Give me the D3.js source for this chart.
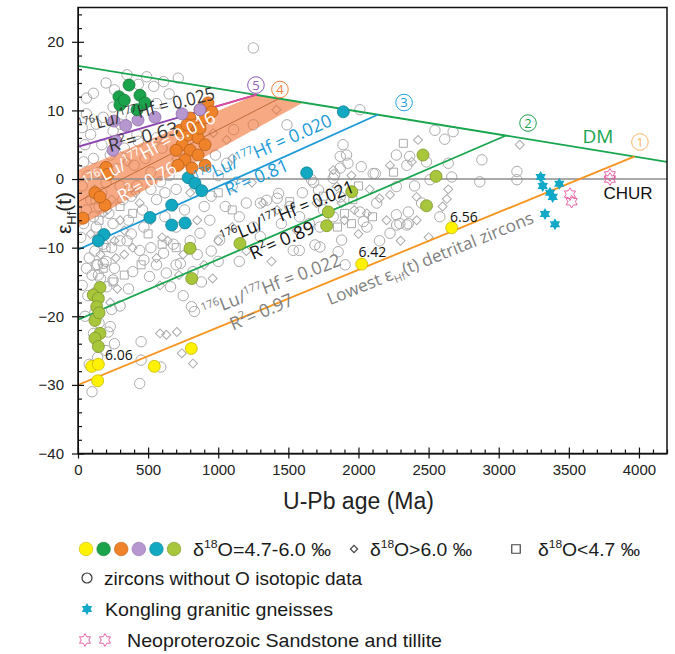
<!DOCTYPE html>
<html>
<head>
<meta charset="utf-8">
<title>εHf(t) vs U-Pb age</title>
<script src="https://cdn.jsdelivr.net/npm/d3@7/dist/d3.min.js"></script>
<style>
  body { margin: 0; background: #fff; }
  #chart svg { display: block; }
</style>
</head>
<body>
<div id="chart"></div>
<script>
// ---- data: age in Ma, epsilon Hf(t) ----
const xTicks = [0, 500, 1000, 1500, 2000, 2500, 3000, 3500, 4000];
const yTicks = [20, 10, 0, -10, -20, -30, -40];

const dmLine = [[0, 16.5], [4200, 2.5]];
const churLine = [[0, 0], [4200, 0]];
const lineLowest = [[0, -30.0], [3970, 3.3]];
const line021 = [[0, -20.5], [3052, 6.35]];
const line020 = [[0, -10.3], [2140, 9.4]];
const line016 = [[0, -3.3], [1430, 11.7]];
const band016 = [[0, 1.3], [1270, 12.3], [1605, 11.15], [0, -7.0]];
const line025 = [[0, 4.7], [1274, 12.3]];
const line025Tail = [[890, 10.0], [1274, 12.3]];

// delta18O = 4.7-6.0 permil zircons, by group colour
const yellowPts = [[98, -27.3], [145, -27.0], [140, -29.4], [544, -27.3], [808, -24.7], [2023, -12.4], [2665, -7.1]];
const greenPts = [[364, 13.7], [292, 12.0], [299, 10.8], [442, 12.2], [478, 11.1], [421, 10.1], [330, 11.5]];
const purplePts = [[257, 8.45], [271, 5.5], [250, 4.2], [428, 8.6], [549, 9.0], [742, 9.5], [870, 10.1], [340, 7.8]];
const orangePts = [
  [927, 11.1], [870, 10.1], [906, 8.9], [799, 8.9], [834, 7.9], [727, 7.1], [784, 6.4], [856, 6.0],
  [906, 5.0], [742, 5.0], [799, 4.2], [856, 3.5], [763, 2.8], [713, 2.0], [813, 1.6], [906, 2.0],
  [955, 9.8], [777, 7.9], [699, 4.2], [870, 7.4],
  [36, -5.7], [200, 1.7], [214, 0.7], [121, -2.0], [193, -3.8], [157, -2.6]
];
const tealPts = [
  [786, 0.2], [834, -0.6], [882, -1.7], [668, -3.8], [513, -5.6], [668, -6.7], [763, -6.4],
  [185, -8.1], [145, -9.0], [1631, 0.9], [1892, 9.8]
];
const limePts = [
  [157, -15.8], [109, -16.9], [145, -17.4], [133, -18.6], [121, -20.6], [150, -19.5], [157, -22.5],
  [121, -23.2], [145, -24.4], [799, -10.1], [811, -14.5], [1155, -9.4], [1952, -1.85], [1785, -4.8],
  [1773, -6.8], [2460, 3.5], [2553, 0.4], [2485, -3.9]
];
const o18Labels = [
  { text: "6.06", age: 193, eps: -26.4 },
  { text: "6.42", age: 2000, eps: -11.3 },
  { text: "6.56", age: 2653, eps: -6.2 }
];

const konglingPts = [[3299, 0.3], [3314, -1.0], [3432, -0.7], [3366, -2.0], [3385, -2.6], [3330, -5.1], [3401, -6.6]];
const sandstonePts = [[3508, -2.2], [3520, -3.3], [3793, 0.6], [3793, 0.0]];

// grey markers
const grayCircles = [
  [350, 15.2], [490, 14.9], [540, 13.5], [610, 14.2], [715, 14.7], [60, 11.8], [110, 12.5], [1250, 19.1],
  [200, 14.0], [260, 13.0], [430, 13.8], [650, 12.4], [1490, 7.9], [250, 10.5], [180, 9.0], [300, 8.0],
  [560, 11.0], [420, 6.5],
  [30, 7.5], [50, 5.0], [40, 2.5], [70, 0.5], [30, -1.0], [90, -3.0], [60, -4.5], [40, -6.5], [110, -5.5],
  [130, -7.0], [150, -4.0], [170, -2.0], [200, -0.5], [220, -5.0], [250, -6.5], [180, -9.5], [120, -10.5],
  [80, -11.5], [60, -13.0], [140, -12.5], [200, -12.0], [240, -10.0], [100, -14.0], [160, -14.5], [110, 3.0],
  [150, 1.0], [90, 6.5], [130, 8.0], [60, 9.5], [230, 3.5], [280, 1.5], [300, -1.0], [300, -9.0], [260, -13.0],
  [70, -17.0], [120, -19.5], [150, -21.0], [110, -22.5], [140, -26.0], [100, -31.0], [80, -27.0], [20, -8.5],
  [50, -20.0], [30, -15.5],
  [470, -7.0], [590, -0.4], [940, -6.0], [870, -7.9], [1010, -8.9], [440, -10.4], [470, -11.8], [610, -10.8],
  [730, -12.3], [390, -13.5], [510, -14.2], [630, -13.7], [700, -12.5], [660, -15.7], [830, -19.3], [810, -18.6],
  [450, -23.7], [450, -26.4], [590, -27.4], [230, -21.5], [215, -22.3], [130, -12.5], [145, -14.0], [205, -15.7],
  [250, -14.7], [180, -12.3], [1060, 2.3], [1345, -3.1], [440, -29.8],
  [430, 5.5], [480, 3.0], [520, 1.0], [560, 6.0], [600, 4.5], [650, 0.5], [700, -1.5], [950, -2.5], [1000, 0.5],
  [980, 3.5], [900, -4.0], [560, -3.0], [620, -5.5], [700, -7.0], [800, -9.0], [850, -11.0], [1000, -12.0],
  [420, -1.0], [460, -4.5], [380, 9.0], [400, 2.0], [360, -6.0], [350, -9.0], [1100, -1.0], [1150, -5.5],
  [1200, -3.5],
  [1300, -3.5], [1420, -2.8], [1510, -4.0], [1580, -5.5], [1750, -4.5], [1300, -8.4], [1535, -10.4], [1725, -9.9],
  [1110, 7.2], [1250, 7.9], [1890, 5.0], [1870, 3.3], [1915, 3.5], [2020, 1.8], [1925, 2.3], [1830, 0.6],
  [2270, 3.5], [2105, 0.8], [2485, 2.5], [1430, -2.1], [1715, -1.6], [1665, -0.1], [1870, -2.6], [1725, -7.0],
  [2130, -3.5], [2035, -6.2], [2270, -5.2], [2225, -7.9], [2010, 10.1], [2545, 7.1], [2615, 5.8], [2675, 6.9],
  [1870, 1.6], [1680, -0.5], [1820, 0.1], [2120, 0.8], [2345, 2.0], [2365, 3.3], [2640, 2.3], [2665, 0.3],
  [2880, 2.8], [3130, 1.1], [3130, -0.1], [2270, -1.1], [2355, -4.8], [2295, -6.5], [2355, -6.5], [2010, -4.8],
  [2060, -7.0], [1880, -8.9], [1690, -9.6], [1820, -5.5], [2510, -0.1], [2865, -0.4], [2580, -5.5],
  [1905, -12.5], [1855, -10.6], [1578, -10.4], [2272, -6.7], [2344, -6.7],
  [320, -3.0], [380, -8.0], [520, -10.0], [560, -12.5], [620, -2.0], [680, -9.5], [760, -4.5], [820, -13.5],
  [880, -15.0], [950, -10.5], [1050, -4.0], [1150, -12.0], [240, -19.0], [300, -18.5], [360, -16.0],
  [200, -25.0], [260, -24.0], [170, 5.0], [250, 7.0], [330, 4.5], [380, -2.5], [520, -1.5], [750, -17.0],
  [1250, -7.0], [1450, -6.5], [1600, -2.0], [1650, -6.5], [2150, -9.0], [2400, -1.0], [2450, -3.5]
];
const grayDiamonds = [
  [1415, 10.1], [2225, 2.0], [2380, 2.5], [2425, 5.7], [1320, -3.5], [1845, -1.1], [2060, -5.0], [2415, -6.0],
  [3150, 5.0], [2225, -2.3], [2415, -2.6], [2630, -2.9], [585, -15.5], [740, -25.4], [705, -22.3], [630, -22.7],
  [820, -26.9], [965, 6.7], [1060, 5.7], [585, -22.5],
  [150, -2.5], [200, -8.0], [180, -5.0], [240, -3.0], [260, -9.0], [300, -6.0], [330, -11.0], [280, -16.0],
  [160, -11.0], [350, 2.5], [410, -2.0], [520, -6.0], [600, -8.5], [680, -4.0], [750, -11.0], [850, -6.0],
  [900, -12.5], [1000, -9.0], [1100, -7.0], [1200, -10.5], [1420, -4.5], [1880, -3.5], [1900, -6.0],
  [1950, -2.0], [2000, -8.0], [1970, -4.5], [2150, -2.8], [2300, -9.0], [2600, -4.0], [2500, -8.5], [800, -2.0],
  [1820, 1.3], [1950, 0.5], [90, -8.0], [120, -1.5], [230, -18.0], [110, -16.5], [700, 3.0], [1100, 3.0],
  [1380, -12.0], [1560, -7.5], [2640, -1.5],
  [140, -8.5], [210, -4.5], [270, -11.5], [330, -7.5], [390, -10.0], [440, -3.5], [560, -11.5], [640, -9.0],
  [720, -14.0], [780, -6.5], [960, -14.5], [1240, -0.5], [1700, -3.5], [2080, -1.5], [2200, -6.0]
];
const graySquares = [
  [2320, 5.2], [1510, -3.3], [1960, -3.0], [1900, -5.0], [1850, -7.0], [2000, -1.0], [1950, -6.5], [150, -6.0],
  [200, -10.0], [120, -3.0], [250, -15.0], [450, -12.5], [600, -9.5], [1000, -2.0], [300, -4.0], [500, -8.0],
  [1750, -2.5], [2100, -5.5], [180, -13.0], [330, -14.0], [390, -5.0], [700, -10.0], [1100, -4.5], [2250, 1.0]
];

// circled numbers where each trend meets DM
const circledNums = [
  { n: "1", age: 4007, eps: 5.4 },
  { n: "2", age: 3209, eps: 8.16 },
  { n: "3", age: 2325, eps: 11.15 },
  { n: "4", age: 1440, eps: 13.05 },
  { n: "5", age: 1269, eps: 13.7 }
];

// Lu/Hf labels: ratio, R2, anchor of each text line
const ratioLabels = [
  { key: "025", ratio: "0.025", r2: "0.63", at: [14, 6.7], r2At: [228, 3.9] },
  { key: "016", ratio: "0.016", r2: "0.76", at: [71, -1.6], r2At: [314, -3.5] },
  { key: "020", ratio: "0.020", r2: "0.81", at: [856, -0.9], r2At: [1070, -2.5] },
  { key: "021", ratio: "0.021", r2: "0.89", at: [1041, -9.6], r2At: [1248, -11.8] },
  { key: "022", ratio: "0.022", r2: "0.97", at: [906, -20.2], r2At: [1105, -22.1] }
];

// ---- layout & styles ----
const width = 675, height = 654;
const plot = { left: 78, right: 667, top: 7.5, bottom: 453.5 };
const arial = "'Liberation Sans', Arial, sans-serif";
const myriad = "'Open Sans', 'Noto Sans', sans-serif";

const col = {
  yellow: ["#FFF200", "#C9B800"],
  green: ["#1BA34B", "#137A36"],
  orange: ["#F08229", "#B85F17"],
  purple: ["#B797CF", "#8E6DA9"],
  teal: ["#13A8C1", "#0C8094"],
  lime: ["#A8C63C", "#7C9526"],
  gray: "#ABABAB",
  dm: "#19A54E",
  blue: "#1B9AD8",
  lineOrange: "#F7941D",
  pink: "#E4559C",
  star: "#12A9C9"
};
const labelStyle = {
  "025": { color: "#333", angle: -14, len: 140, r2len: 72, r2angle: -15 },
  "016": { color: "#fff", angle: -28, len: 146, r2len: 64, r2angle: -29 },
  "020": { color: col.blue, angle: -24, len: 148, r2len: 67, r2angle: -23 },
  "021": { color: "#111", angle: -22, len: 142, r2len: 69, r2angle: -24 },
  "022": { color: "#808080", angle: -21, len: 147, r2len: 67, r2angle: -23 }
};
const circleColors = { "1": "#F9B56A", "2": "#1BA34B", "3": "#1FA2E0", "4": "#F37F3A", "5": "#8E5BB5" };

const svg = d3.select("#chart").append("svg")
  .attr("width", width)
  .attr("height", height)
  .attr("viewBox", `0 0 ${width} ${height}`);

const x = d3.scaleLinear().domain([0, 4200]).range([plot.left, plot.right]);
const y = d3.scaleLinear().domain([-40, 25]).range([plot.bottom, plot.top]);
const line = d3.line().x(d => x(d[0])).y(d => y(d[1]));

// six-pointed star symbol
const hexStar = {
  draw(context, size) {
    const r = Math.sqrt(size / 2.2);
    const ri = r * 0.58;
    for (let i = 0; i < 12; i++) {
      const a = -Math.PI / 2 + i * Math.PI / 6;
      const rr = i % 2 === 0 ? r : ri;
      if (i === 0) context.moveTo(rr * Math.cos(a), rr * Math.sin(a));
      else context.lineTo(rr * Math.cos(a), rr * Math.sin(a));
    }
    context.closePath();
  }
};

// text with super/subscript parts
function richText(sel, parts, size) {
  let shift = 0;
  parts.forEach(([s, kind]) => {
    const target = kind === "sup" ? -0.4 * size : kind === "sub" ? 0.25 * size : 0;
    const t = sel.append("tspan").attr("dy", target - shift).text(s);
    if (kind) t.attr("font-size", size * 0.62);
    shift = target;
  });
  return sel;
}

const clipId = "plot-clip";
svg.append("clipPath").attr("id", clipId)
  .append("rect")
  .attr("x", plot.left).attr("y", plot.top)
  .attr("width", plot.right - plot.left).attr("height", plot.bottom - plot.top);

const plotG = svg.append("g").attr("clip-path", `url(#${clipId})`);

// grey markers
plotG.append("g").selectAll("circle")
  .data(grayCircles).enter().append("circle")
  .attr("cx", d => x(d[0])).attr("cy", d => y(d[1])).attr("r", 5.2)
  .attr("fill", "none").attr("stroke", col.gray).attr("stroke-width", 1);

plotG.append("g").selectAll("path")
  .data(grayDiamonds).enter().append("path")
  .attr("d", d3.symbol(d3.symbolSquare, 40))
  .attr("transform", d => `translate(${x(d[0])},${y(d[1])}) rotate(45)`)
  .attr("fill", "none").attr("stroke", col.gray).attr("stroke-width", 1);

plotG.append("g").selectAll("path")
  .data(graySquares).enter().append("path")
  .attr("d", d3.symbol(d3.symbolSquare, 64))
  .attr("transform", d => `translate(${x(d[0])},${y(d[1])})`)
  .attr("fill", "none").attr("stroke", col.gray).attr("stroke-width", 1);

// band and lines
plotG.append("path")
  .attr("d", line(band016) + "Z")
  .attr("fill", "#F07030").attr("fill-opacity", 0.6);

plotG.append("path").attr("d", line(churLine))
  .attr("stroke", "#8C8C8C").attr("stroke-width", 1.6).attr("fill", "none");
plotG.append("path").attr("d", line(dmLine))
  .attr("stroke", col.dm).attr("stroke-width", 1.8).attr("fill", "none");
plotG.append("path").attr("d", line(lineLowest))
  .attr("stroke", col.lineOrange).attr("stroke-width", 1.8).attr("fill", "none");
plotG.append("path").attr("d", line(line021))
  .attr("stroke", col.dm).attr("stroke-width", 1.8).attr("fill", "none");
plotG.append("path").attr("d", line(line020))
  .attr("stroke", col.blue).attr("stroke-width", 1.8).attr("fill", "none");
plotG.append("path").attr("d", line(line016))
  .attr("stroke", "#C0693A").attr("stroke-width", 1).attr("fill", "none");
plotG.append("path").attr("d", line(line025))
  .attr("stroke", "#8E44B0").attr("stroke-width", 1.8).attr("fill", "none");
plotG.append("path").attr("d", line(line025Tail))
  .attr("stroke", "#E0489A").attr("stroke-width", 1.8).attr("fill", "none");

// coloured zircons with delta18O data
const groups = [
  [limePts, col.lime], [yellowPts, col.yellow], [tealPts, col.teal],
  [orangePts, col.orange], [purplePts, col.purple], [greenPts, col.green]
];
groups.forEach(([pts, c]) => {
  plotG.append("g").selectAll("circle")
    .data(pts).enter().append("circle")
    .attr("cx", d => x(d[0])).attr("cy", d => y(d[1])).attr("r", 6)
    .attr("fill", c[0]).attr("stroke", c[1]).attr("stroke-width", 0.8);
});

plotG.append("g").selectAll("path")
  .data(konglingPts).enter().append("path")
  .attr("d", d3.symbol(hexStar, 80))
  .attr("transform", d => `translate(${x(d[0])},${y(d[1])})`)
  .attr("fill", col.star);

plotG.append("g").selectAll("path")
  .data(sandstonePts).enter().append("path")
  .attr("d", d3.symbol(hexStar, 90))
  .attr("transform", d => `translate(${x(d[0])},${y(d[1])})`)
  .attr("fill", "none").attr("stroke", col.pink).attr("stroke-width", 0.9);

// labels inside the plot
const labelG = svg.append("g").attr("font-family", myriad);

ratioLabels.forEach(d => {
  const s = labelStyle[d.key];
  const t1 = labelG.append("text")
    .attr("transform", `translate(${x(d.at[0])},${y(d.at[1])}) rotate(${s.angle})`)
    .attr("font-size", 18).attr("fill", s.color)
    .attr("textLength", s.len).attr("lengthAdjust", "spacingAndGlyphs");
  richText(t1, [["176", "sup"], ["Lu/"], ["177", "sup"], ["Hf = " + d.ratio]], 18);
  const t2 = labelG.append("text")
    .attr("transform", `translate(${x(d.r2At[0])},${y(d.r2At[1])}) rotate(${s.r2angle})`)
    .attr("font-size", 18).attr("fill", s.color)
    .attr("textLength", s.r2len).attr("lengthAdjust", "spacingAndGlyphs");
  richText(t2, [["R"], ["2", "sup"], ["= " + d.r2]], 18);
});

const lowest = labelG.append("text")
  .attr("transform", `translate(${x(1797)},${y(-18.4)}) rotate(-22)`)
  .attr("font-size", 17).attr("fill", "#808080")
  .attr("textLength", 221).attr("lengthAdjust", "spacingAndGlyphs");
richText(lowest, [["Lowest ε"], ["Hf", "sub"], ["(t) detrital zircons"]], 17);

labelG.selectAll("text.o18")
  .data(o18Labels).enter().append("text")
  .attr("class", "o18")
  .attr("x", d => x(d.age)).attr("y", d => y(d.eps))
  .attr("font-size", 14).attr("fill", "#111")
  .text(d => d.text);

labelG.append("text")
  .attr("x", x(3708)).attr("y", y(5.2))
  .attr("text-anchor", "middle")
  .attr("font-size", 19).attr("fill", col.dm)
  .text("DM");

svg.append("text")
  .attr("x", x(3922)).attr("y", y(-2.9))
  .attr("text-anchor", "middle")
  .attr("font-family", arial).attr("font-size", 17).attr("fill", "#111")
  .text("CHUR");

const circG = svg.append("g").selectAll("g")
  .data(circledNums).enter().append("g")
  .attr("transform", d => `translate(${x(d.age)},${y(d.eps)})`);
circG.append("circle")
  .attr("r", 8.3).attr("fill", "#fff").attr("fill-opacity", 0)
  .attr("stroke", d => circleColors[d.n]).attr("stroke-width", 1);
circG.append("text")
  .attr("text-anchor", "middle").attr("dy", "0.36em")
  .attr("font-family", myriad).attr("font-size", 13)
  .attr("fill", d => circleColors[d.n])
  .text(d => d.n);

// ---- axes ----
const axisG = svg.append("g").attr("font-family", arial);

const yAxis = axisG.append("g")
  .attr("transform", `translate(${plot.left},0)`)
  .call(d3.axisLeft(y).tickValues(yTicks).tickSizeInner(6).tickSizeOuter(0).tickPadding(8).tickFormat(d3.format("d")));
yAxis.selectAll("text").attr("font-size", 15).attr("fill", "#222").attr("font-family", arial);
axisG.append("g")
  .attr("transform", `translate(${plot.left},0)`)
  .call(d3.axisLeft(y).tickValues(yTicks).tickSize(-6).tickFormat(""))
  .call(g => g.select(".domain").remove());
axisG.append("g")
  .attr("transform", `translate(${plot.left},0)`)
  .call(d3.axisLeft(y).tickValues(d3.range(-40, 26, 2).filter(v => v % 10 !== 0)).tickSize(-4).tickFormat(""))
  .call(g => g.select(".domain").remove());

const xAxis = axisG.append("g")
  .attr("transform", `translate(0,${plot.bottom})`)
  .call(d3.axisBottom(x).tickValues(xTicks).tickSizeInner(5).tickSizeOuter(0).tickPadding(6).tickFormat(d3.format("d")));
xAxis.selectAll("text").attr("font-size", 15).attr("fill", "#222").attr("font-family", arial);
axisG.append("g")
  .attr("transform", `translate(0,${plot.bottom})`)
  .call(d3.axisBottom(x).tickValues(xTicks).tickSize(-6).tickFormat(""))
  .call(g => g.select(".domain").remove());
axisG.append("g")
  .attr("transform", `translate(0,${plot.bottom})`)
  .call(d3.axisBottom(x).tickValues(d3.range(100, 4201, 100).filter(v => v % 500 !== 0)).tickSize(-4).tickFormat(""))
  .call(g => g.select(".domain").remove());

axisG.selectAll("line").attr("stroke", "#111").attr("stroke-width", 1.2);

svg.append("rect")
  .attr("x", plot.left).attr("y", plot.top)
  .attr("width", plot.right - plot.left).attr("height", plot.bottom - plot.top)
  .attr("fill", "none").attr("stroke", "#111").attr("stroke-width", 1.5);

svg.append("text")
  .attr("x", (plot.left + plot.right) / 2 - 14).attr("y", 509)
  .attr("text-anchor", "middle")
  .attr("font-family", arial).attr("font-size", 23).attr("fill", "#222")
  .text("U-Pb age (Ma)");

const yLabel = svg.append("text")
  .attr("transform", "translate(71,213) rotate(-90)")
  .attr("text-anchor", "middle")
  .attr("font-family", arial).attr("font-size", 21).attr("fill", "#222");
richText(yLabel, [["ε"], ["Hf", "sub"], ["(t)"]], 21);

// ---- legend ----
const legend = svg.append("g").attr("font-family", arial).attr("font-size", 19).attr("fill", "#1a1a1a");
const legendDots = [col.yellow, col.green, col.orange, col.purple, col.teal, col.lime];

legend.selectAll("circle.dot")
  .data(legendDots).enter().append("circle")
  .attr("class", "dot")
  .attr("cx", (d, i) => 86 + i * 17.6).attr("cy", 549).attr("r", 6.8)
  .attr("fill", d => d[0]).attr("stroke", d => d[1]).attr("stroke-width", 0.6);

const lt1 = legend.append("text").attr("x", 193).attr("y", 556)
  .attr("textLength", 138).attr("lengthAdjust", "spacingAndGlyphs");
richText(lt1, [["δ"], ["18", "sup"], ["O=4.7-6.0 ‰"]], 19);

legend.append("path")
  .attr("d", d3.symbol(d3.symbolSquare, 26))
  .attr("transform", "translate(354,549) rotate(45)")
  .attr("fill", "none").attr("stroke", "#444").attr("stroke-width", 1.2);
const lt2 = legend.append("text").attr("x", 370).attr("y", 556)
  .attr("textLength", 102).attr("lengthAdjust", "spacingAndGlyphs");
richText(lt2, [["δ"], ["18", "sup"], ["O>6.0 ‰"]], 19);

legend.append("path")
  .attr("d", d3.symbol(d3.symbolSquare, 72))
  .attr("transform", "translate(516,549)")
  .attr("fill", "none").attr("stroke", "#444").attr("stroke-width", 1.2);
const lt3 = legend.append("text").attr("x", 538).attr("y", 556)
  .attr("textLength", 102).attr("lengthAdjust", "spacingAndGlyphs");
richText(lt3, [["δ"], ["18", "sup"], ["O<4.7 ‰"]], 19);

legend.append("circle")
  .attr("cx", 87).attr("cy", 578).attr("r", 5)
  .attr("fill", "none").attr("stroke", "#333").attr("stroke-width", 1.2);
legend.append("text").attr("x", 104).attr("y", 585)
  .attr("textLength", 258).attr("lengthAdjust", "spacingAndGlyphs")
  .text("zircons without O isotopic data");

legend.append("path")
  .attr("d", d3.symbol(hexStar, 80))
  .attr("transform", "translate(87,609)")
  .attr("fill", col.star);
legend.append("text").attr("x", 105).attr("y", 616)
  .attr("textLength", 228).attr("lengthAdjust", "spacingAndGlyphs")
  .text("Kongling granitic gneisses");

legend.selectAll("path.ss")
  .data([85, 105]).enter().append("path")
  .attr("class", "ss")
  .attr("d", d3.symbol(hexStar, 90))
  .attr("transform", d => `translate(${d},640)`)
  .attr("fill", "none").attr("stroke", col.pink).attr("stroke-width", 0.9);
legend.append("text").attr("x", 127).attr("y", 647)
  .attr("textLength", 315).attr("lengthAdjust", "spacingAndGlyphs")
  .text("Neoproterozoic Sandstone and tillite");
</script>
</body>
</html>
